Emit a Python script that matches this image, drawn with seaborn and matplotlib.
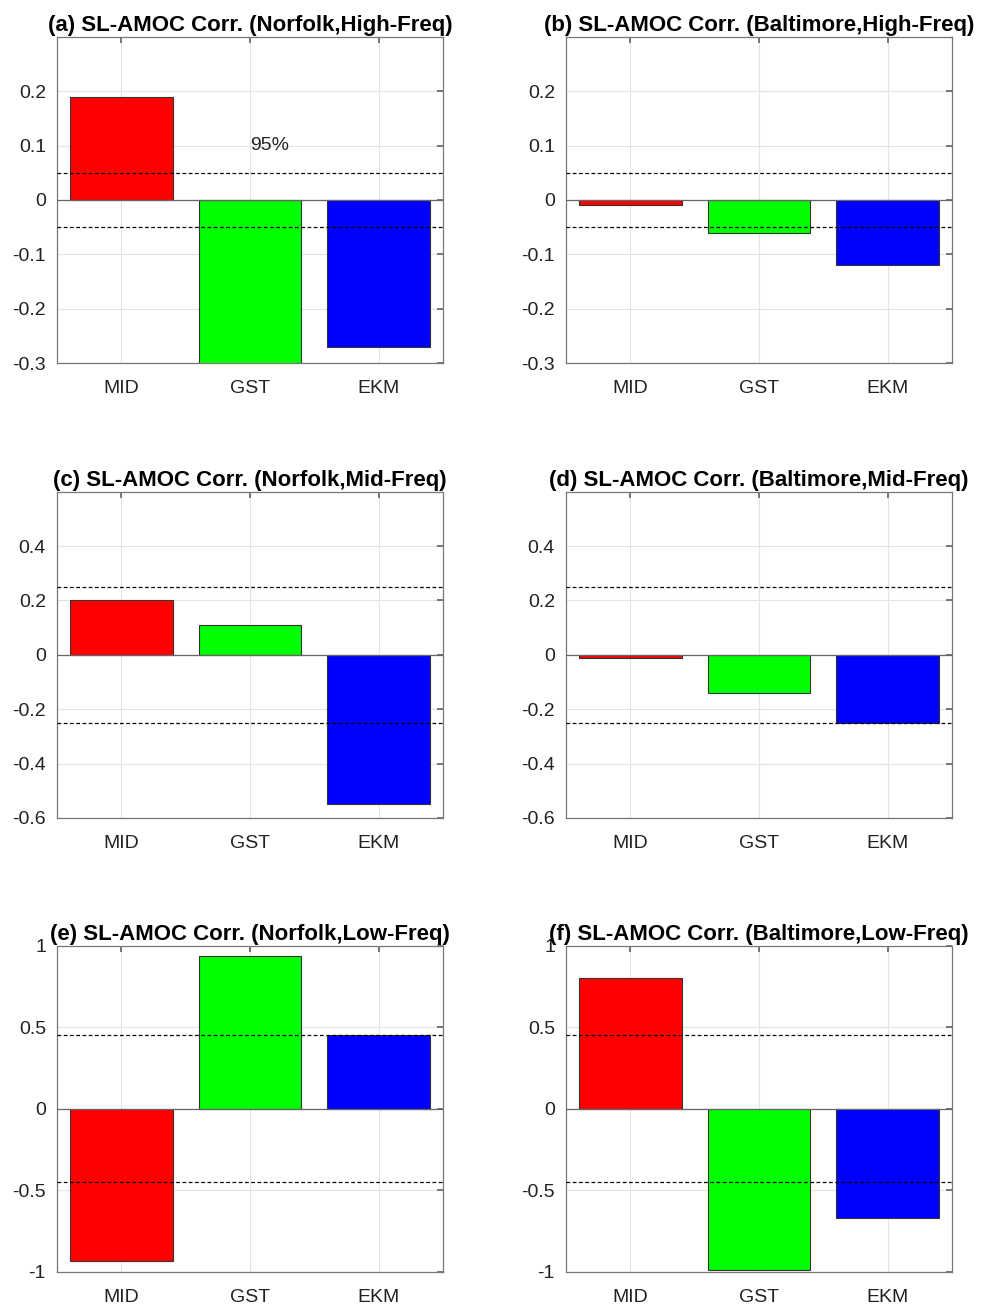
import matplotlib
matplotlib.use("Agg")
import matplotlib.pyplot as plt
import pandas as pd
import seaborn as sns

components = ["MID", "GST", "EKM"]
bar_colors = ["#ff0000", "#00ff00", "#0000ff"]

titles = [
    "(a) SL-AMOC Corr. (Norfolk,High-Freq)",
    "(b) SL-AMOC Corr. (Baltimore,High-Freq)",
    "(c) SL-AMOC Corr. (Norfolk,Mid-Freq)",
    "(d) SL-AMOC Corr. (Baltimore,Mid-Freq)",
    "(e) SL-AMOC Corr. (Norfolk,Low-Freq)",
    "(f) SL-AMOC Corr. (Baltimore,Low-Freq)",
]

norfolk_high = [0.19, -0.30, -0.27]
baltimore_high = [-0.01, -0.06, -0.12]
norfolk_mid = [0.20, 0.11, -0.55]
baltimore_mid = [-0.01, -0.14, -0.25]
norfolk_low = [-0.93, 0.94, 0.45]
baltimore_low = [0.80, -0.99, -0.67]

# 95% significance levels for each frequency band
sig_high = 0.05
sig_mid = 0.25
sig_low = 0.45

ylims = {"high": (-0.3, 0.3), "mid": (-0.6, 0.6), "low": (-1.0, 1.0)}
yticks = {
    "high": [-0.3, -0.2, -0.1, 0, 0.1, 0.2],
    "mid": [-0.6, -0.4, -0.2, 0, 0.2, 0.4],
    "low": [-1, -0.5, 0, 0.5, 1],
}
ytick_labels = {
    "high": ["-0.3", "-0.2", "-0.1", "0", "0.1", "0.2"],
    "mid": ["-0.6", "-0.4", "-0.2", "0", "0.2", "0.4"],
    "low": ["-1", "-0.5", "0", "0.5", "1"],
}

panels = [
    (norfolk_high, sig_high, "high"),
    (baltimore_high, sig_high, "high"),
    (norfolk_mid, sig_mid, "mid"),
    (baltimore_mid, sig_mid, "mid"),
    (norfolk_low, sig_low, "low"),
    (baltimore_low, sig_low, "low"),
]

sns.set_theme(style="white")
plt.rcParams["font.family"] = ["Liberation Sans", "DejaVu Sans"]

fig = plt.figure(figsize=(9.88, 13.05), dpi=100)

lefts = [0.0577, 0.5729]
bottoms = [0.7218, 0.3732, 0.0253]
width, height = 0.3907, 0.2500

for i, (vals, sig, band) in enumerate(panels):
    row, col = divmod(i, 2)
    ax = fig.add_axes([lefts[col], bottoms[row], width, height])
    df = pd.DataFrame({"comp": components, "corr": vals})
    sns.barplot(
        data=df, x="comp", y="corr", hue="comp", palette=bar_colors,
        width=0.8, edgecolor="#333333", linewidth=0.8, legend=False,
        saturation=1, ax=ax, zorder=3,
    )
    ax.set_xlim(-0.5, 2.5)
    ax.set_ylim(*ylims[band])
    ax.set_yticks(yticks[band])
    ax.set_yticklabels(ytick_labels[band])
    ax.axhline(0, color="#666666", linewidth=0.9, zorder=4)
    ax.axhline(sig, color="black", linestyle=(0, (3, 2)), linewidth=0.9, zorder=5)
    ax.axhline(-sig, color="black", linestyle=(0, (3, 2)), linewidth=0.9, zorder=5)
    ax.grid(True, color="#e3e3e3", linewidth=0.8, zorder=0)
    ax.set_axisbelow(True)
    ax.set_xlabel("")
    ax.set_ylabel("")
    ax.set_title(titles[i], fontsize=16, fontweight="bold", color="black", pad=4)
    ax.tick_params(axis="both", direction="in", length=4, labelsize=14,
                   color="#666666", labelcolor="#222222",
                   top=True, right=True)
    ax.tick_params(axis="x", pad=12)
    ax.tick_params(axis="y", pad=8)
    for s in ax.spines.values():
        s.set_color("#777777")
        s.set_linewidth(0.9)
    if i == 0:
        ax.text(1.15, 0.1, "95%", fontsize=14, ha="center", va="center",
                color="#222222", zorder=6)

fig.savefig("out.png", dpi=100)
